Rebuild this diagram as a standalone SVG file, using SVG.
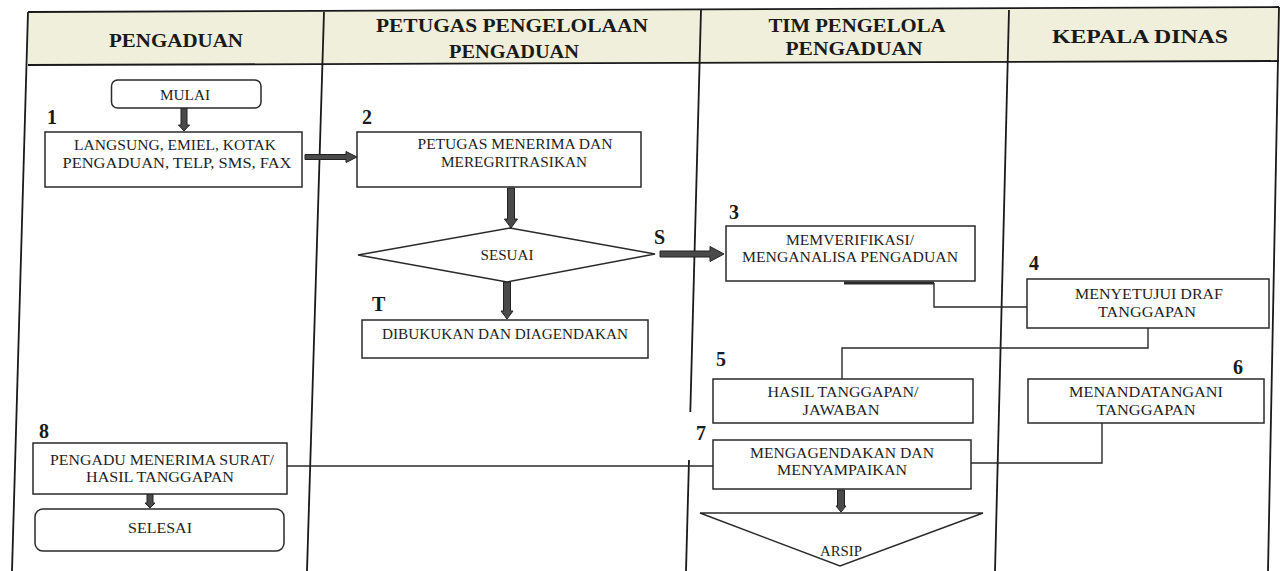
<svg xmlns="http://www.w3.org/2000/svg" width="1280" height="571" viewBox="0 0 1280 571">
<style>
.lane{stroke:#1a1a1a;stroke-width:1.8;fill:none}
.box{fill:#fff;stroke:#2a2a2a;stroke-width:1.5}
.con{fill:none;stroke:#2a2a2a;stroke-width:1.4}
.arr{fill:#4a4a4a;stroke:#222;stroke-width:1}
.h{font-family:"Liberation Serif","Times New Roman",serif;font-weight:bold;font-size:18px;fill:#1a1a1a;text-anchor:middle}
.t{font-family:"Liberation Serif","Times New Roman",serif;font-size:14px;fill:#1e1e1e;text-anchor:middle}
.n{font-family:"Liberation Serif","Times New Roman",serif;font-weight:bold;font-size:20px;fill:#1a1a1a}
</style>
<rect width="1280" height="571" fill="#ffffff"/>
<g id="lanes">
  <polygon points="28,12 1279,7 1279,61 28,65" fill="#efefdc"/>
  <line class="lane" x1="28" y1="12" x2="1279" y2="7"/>
  <line class="lane" x1="28" y1="65" x2="1279" y2="61"/>
  <line class="lane" x1="28" y1="12" x2="12" y2="571"/>
  <line class="lane" x1="324" y1="12" x2="307" y2="571"/>
  <line class="lane" x1="701" y1="10" x2="690.3" y2="412"/>
  <line class="lane" x1="689" y1="460" x2="686" y2="571"/>
  <line class="lane" x1="1009" y1="10" x2="995" y2="571"/>
  <line class="lane" x1="1279" y1="7" x2="1268" y2="571"/>
  <text class="h" x="176" y="47" textLength="134" lengthAdjust="spacingAndGlyphs">PENGADUAN</text>
  <text class="h" x="512" y="32" textLength="272" lengthAdjust="spacingAndGlyphs">PETUGAS PENGELOLAAN</text>
  <text class="h" x="514" y="58" textLength="130" lengthAdjust="spacingAndGlyphs">PENGADUAN</text>
  <text class="h" x="857" y="32" textLength="177" lengthAdjust="spacingAndGlyphs">TIM PENGELOLA</text>
  <text class="h" x="854" y="55" textLength="137" lengthAdjust="spacingAndGlyphs">PENGADUAN</text>
  <text class="h" x="1140" y="43" textLength="176" lengthAdjust="spacingAndGlyphs">KEPALA DINAS</text>
</g>
<g id="connectors">
  <polygon class="arr" points="181,108 187,108 187,125 189.5,125 184,131 178.5,125 181,125"/>
  <polygon class="arr" points="305,154.5 346,154.5 346,151.5 357,157 346,162.5 346,159.5 305,159.5"/>
  <polygon class="arr" points="507.5,188 514.5,188 514.5,219 517.5,219 511,228 504.5,219 507.5,219"/>
  <polygon class="arr" points="660,251 710,251 710,246.5 724,254 710,261.5 710,257 660,257"/>
  <polygon class="arr" points="503.5,282 510.5,282 510.5,311 513,311 507,319 501,311 503.5,311"/>
  <polygon class="arr" points="837.5,490 844.5,490 844.5,506 846,506 841,512 836,506 837.5,506"/>
  <polygon class="arr" points="147,494 153,494 153,503 155,503 150,508 145,503 147,503"/>
  <line x1="844" y1="283" x2="934" y2="283" stroke="#2a2a2a" stroke-width="3"/>
  <path class="con" d="M934,283 V307 H1027"/>
  <path class="con" d="M1148,328 V348 H842 V379"/>
  <path class="con" d="M1102,423 V463 H971"/>
  <path class="con" d="M713,466 H287"/>
</g>
<g id="mulai">
  <rect class="box" x="111.5" y="80" width="149.5" height="28" rx="6"/>
  <text class="t" x="185" y="100" textLength="50" lengthAdjust="spacingAndGlyphs">MULAI</text>
</g>
<g id="step1">
  <text class="n" x="47" y="124">1</text>
  <rect class="box" x="45" y="132" width="257" height="55"/>
  <text class="t" x="175" y="150" textLength="202" lengthAdjust="spacingAndGlyphs">LANGSUNG, EMIEL, KOTAK</text>
  <text class="t" x="177" y="168" textLength="229" lengthAdjust="spacingAndGlyphs">PENGADUAN, TELP, SMS, FAX</text>
</g>
<g id="step2">
  <text class="n" x="362" y="124">2</text>
  <rect class="box" x="357" y="132" width="284" height="55"/>
  <text class="t" x="515" y="149" textLength="195" lengthAdjust="spacingAndGlyphs">PETUGAS MENERIMA DAN</text>
  <text class="t" x="514" y="167" textLength="146" lengthAdjust="spacingAndGlyphs">MEREGRITRASIKAN</text>
</g>
<g id="sesuai">
  <polygon class="box" points="358,255 510,228 655,254 507,282"/>
  <text class="t" x="507" y="260" textLength="53" lengthAdjust="spacingAndGlyphs">SESUAI</text>
  <text class="n" x="654" y="244">S</text>
  <text class="n" x="372" y="311">T</text>
</g>
<g id="dibukukan">
  <rect class="box" x="362" y="320" width="286" height="38"/>
  <text class="t" x="505" y="339" textLength="246" lengthAdjust="spacingAndGlyphs">DIBUKUKAN DAN DIAGENDAKAN</text>
</g>
<g id="step3">
  <text class="n" x="729" y="219">3</text>
  <rect class="box" x="726" y="226" width="249" height="55"/>
  <text class="t" x="850" y="245" textLength="128" lengthAdjust="spacingAndGlyphs">MEMVERIFIKASI/</text>
  <text class="t" x="850" y="262" textLength="216" lengthAdjust="spacingAndGlyphs">MENGANALISA PENGADUAN</text>
</g>
<g id="step4">
  <text class="n" x="1029" y="270">4</text>
  <rect class="box" x="1027" y="279" width="242" height="49"/>
  <text class="t" x="1149" y="299" textLength="148" lengthAdjust="spacingAndGlyphs">MENYETUJUI DRAF</text>
  <text class="t" x="1147" y="317" textLength="98" lengthAdjust="spacingAndGlyphs">TANGGAPAN</text>
</g>
<g id="step5">
  <text class="n" x="716" y="366">5</text>
  <rect class="box" x="713" y="379" width="260" height="44"/>
  <text class="t" x="843" y="397" textLength="151" lengthAdjust="spacingAndGlyphs">HASIL TANGGAPAN/</text>
  <text class="t" x="841" y="415" textLength="77" lengthAdjust="spacingAndGlyphs">JAWABAN</text>
</g>
<g id="step6">
  <text class="n" x="1233" y="374">6</text>
  <rect class="box" x="1028" y="379" width="236" height="44"/>
  <text class="t" x="1146" y="397" textLength="154" lengthAdjust="spacingAndGlyphs">MENANDATANGANI</text>
  <text class="t" x="1146" y="415" textLength="99" lengthAdjust="spacingAndGlyphs">TANGGAPAN</text>
</g>
<g id="step7">
  <text class="n" x="696" y="440">7</text>
  <rect class="box" x="713" y="440" width="258" height="49"/>
  <text class="t" x="842" y="458" textLength="184" lengthAdjust="spacingAndGlyphs">MENGAGENDAKAN DAN</text>
  <text class="t" x="842" y="475" textLength="130" lengthAdjust="spacingAndGlyphs">MENYAMPAIKAN</text>
</g>
<g id="arsip">
  <polygon class="box" points="700,513 983,513 840,566"/>
  <text class="t" x="841" y="556" textLength="42" lengthAdjust="spacingAndGlyphs">ARSIP</text>
</g>
<g id="step8">
  <text class="n" x="39" y="438">8</text>
  <rect class="box" x="33" y="443" width="254" height="51"/>
  <text class="t" x="162" y="465" textLength="224" lengthAdjust="spacingAndGlyphs">PENGADU MENERIMA SURAT/</text>
  <text class="t" x="160" y="482" textLength="148" lengthAdjust="spacingAndGlyphs">HASIL TANGGAPAN</text>
</g>
<g id="selesai">
  <rect class="box" x="35" y="509" width="249" height="42" rx="8"/>
  <text class="t" x="160" y="533" textLength="64" lengthAdjust="spacingAndGlyphs">SELESAI</text>
</g>
</svg>
